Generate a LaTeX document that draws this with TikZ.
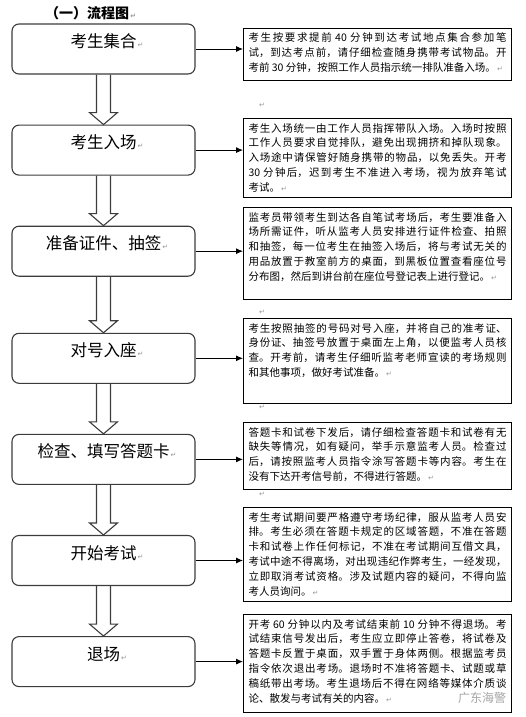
\documentclass[tikz,border=0pt]{standalone}
\usepackage{fontspec}
\usepackage{xcolor}
\usepackage{tikz}
\usetikzlibrary{arrows.meta, positioning, calc}
\setmainfont{Noto Sans CJK SC}
\newfontfamily\symfont{DejaVu Sans}
\XeTeXlinebreaklocale "zh"
\XeTeXlinebreakskip=0pt plus 2pt
\definecolor{boxgray}{RGB}{60,60,60}
\definecolor{markgray}{RGB}{150,150,150}
\definecolor{wmgray}{RGB}{165,165,165}
\newcommand{\pmark}{{\symfont\color{markgray}\fontsize{7pt}{7pt}\selectfont\,↵}}

\begin{document}
\begin{tikzpicture}[
    x=1pt, y=-1pt,
    node distance=50pt,
    stage/.style={
      rectangle, rounded corners=7pt,
      draw=boxgray, line width=1.1pt,
      minimum width=183pt, minimum height=50pt,
      inner sep=0pt, text height=10.5pt, text depth=13.5pt,
      font=\fontsize{16.5pt}{18pt}\selectfont
    },
    descr/.style={
      rectangle, draw=black, line width=1pt,
      anchor=north west, text width=258pt,
      inner xsep=5pt, inner ysep=0pt, text height=13.5pt,
      align=justify, font=\fontsize{10.5pt}{14.8pt}\selectfont
    },
    link/.style={-{Latex[length=7pt, width=6pt]}, line width=0.9pt},
    hollow/.style={
      draw=boxgray, line width=1.1pt,
      to path={let \p1=(\tikztostart), \p2=(\tikztotarget) in
        (\x1-7pt,\y1) -- (\x1-7pt,\y2+12pt) -- (\x1-14pt,\y2+12pt) -- (\x2,\y2)
        -- (\x1+14pt,\y2+12pt) -- (\x1+7pt,\y2+12pt) -- (\x1+7pt,\y1)}
    },
    stray/.style={inner sep=0pt, font=\symfont\fontsize{7pt}{7pt}\selectfont, text=markgray}
  ]
  \useasboundingbox (0,0) rectangle (525,717);

  \node[anchor=west, inner sep=0pt, font=\bfseries\fontsize{14pt}{16pt}\selectfont]
    (title) at (45,13) {（一）流程图\pmark};

  \node[stage] (gather) at (103.5,49) {考生集合\rlap{\pmark}};
  \node[stage, below=of gather]      (enter) {考生入场\rlap{\pmark}};
  \node[stage, below=of enter]       (docs)  {准备证件、抽签\rlap{\pmark}};
  \node[stage, below=56pt of docs]   (seat)  {对号入座\rlap{\pmark}};
  \node[stage, below=of seat]        (check) {检查、填写答题卡\rlap{\pmark}};
  \node[stage, below=of check]       (exam)  {开始考试\rlap{\pmark}};
  \node[stage, below=of exam]        (leave) {退场\rlap{\pmark}};

  \node[descr, text depth=38.5pt] (gatherd) at (243,28) {%
    考生按要求提前 40 分钟到达考试地点集合参加笔\linebreak
    试，到达考点前，请仔细检查随身携带考试物品。开\linebreak
    考前 30 分钟，按照工作人员指示统一排队准备入场。\pmark};
  \node[descr, text depth=65.5pt] (enterd) at (243,118) {%
    考生入场统一由工作人员指挥带队入场。入场时按照\linebreak
    工作人员要求自觉排队，避免出现拥挤和掉队现象。\linebreak
    入场途中请保管好随身携带的物品，以免丢失。开考\linebreak
    30 分钟后，迟到考生不准进入考场，视为放弃笔试\linebreak
    考试。\pmark};
  \node[descr, text depth=78.5pt] (docsd) at (243,207) {%
    监考员带领考生到达各自笔试考场后，考生要准备入\linebreak
    场所需证件，听从监考人员安排进行证件检查、拍照\linebreak
    和抽签，每一位考生在抽签入场后，将与考试无关的\linebreak
    用品放置于教室前方的桌面，到黑板位置查看座位号\linebreak
    分布图，然后到讲台前在座位号登记表上进行登记。\pmark};
  \node[descr, text depth=71.5pt] (seatd) at (243,318) {%
    考生按照抽签的号码对号入座，并将自己的准考证、\linebreak
    身份证、抽签号放置于桌面左上角，以便监考人员核\linebreak
    查。开考前，请考生仔细听监考老师宣读的考场规则\linebreak
    和其他事项，做好考试准备。\pmark};
  \node[descr, text depth=53.5pt] (checkd) at (243,422) {%
    答题卡和试卷下发后，请仔细检查答题卡和试卷有无\linebreak
    缺失等情况，如有疑问，举手示意监考人员。检查过\linebreak
    后，请按照监考人员指令涂写答题卡等内容。考生在\linebreak
    没有下达开考信号前，不得进行答题。\pmark};
  \node[descr, text depth=80.5pt] (examd) at (243,507) {%
    考生考试期间要严格遵守考场纪律，服从监考人员安\linebreak
    排。考生必须在答题卡规定的区域答题，不准在答题\linebreak
    卡和试卷上作任何标记，不准在考试期间互借文具，\linebreak
    考试中途不得离场，对出现违纪作弊考生，一经发现，\linebreak
    立即取消考试资格。涉及试题内容的疑问，不得向监\linebreak
    考人员询问。\pmark};
  \node[descr, text depth=84.5pt] (leaved) at (243,614) {%
    开考 60 分钟以内及考试结束前 10 分钟不得退场。考\linebreak
    试结束信号发出后，考生应立即停止答卷，将试卷及\linebreak
    答题卡反置于桌面，双手置于身体两侧。根据监考员\linebreak
    指令依次退出考场。退场时不准将答题卡、试题或草\linebreak
    稿纸带出考场。考生退场后不得在网络等媒体介质谈\linebreak
    论、散发与考试有关的内容。\pmark};

  \draw[hollow] (gather.south) to (enter.north);
  \draw[hollow] (enter.south)  to (docs.north);
  \draw[hollow] (docs.south)   to (seat.north);
  \draw[hollow] (seat.south)   to (check.north);
  \draw[hollow] (check.south)  to (exam.north);
  \draw[hollow] (exam.south)   to (leave.north);

  \draw[link] (gather.east) -- (gather.east -| gatherd.west);
  \draw[link] (enter.east)  -- (enter.east -| enterd.west);
  \draw[link] (docs.east)   -- (docs.east -| docsd.west);
  \draw[link] (seat.east)   -- (seat.east -| seatd.west);
  \draw[link] (check.east)  -- (check.east -| checkd.west);
  \draw[link] (exam.east)   -- (exam.east -| examd.west);
  \draw[link] (leave.east)  -- (leave.east -| leaved.west);

  \node[stray] (m1) at (262,105) {↵};
  \node[stray] (m2) at (262,312) {↵};
  \node[stray] (m3) at (262,407) {↵};
  \node[stray] (m4) at (262,494) {↵};

  \node[font=\fontsize{12pt}{13pt}\selectfont, text=wmgray, inner sep=0pt]
    (wm) at (482,698) {广东海警};
\end{tikzpicture}
\end{document}
